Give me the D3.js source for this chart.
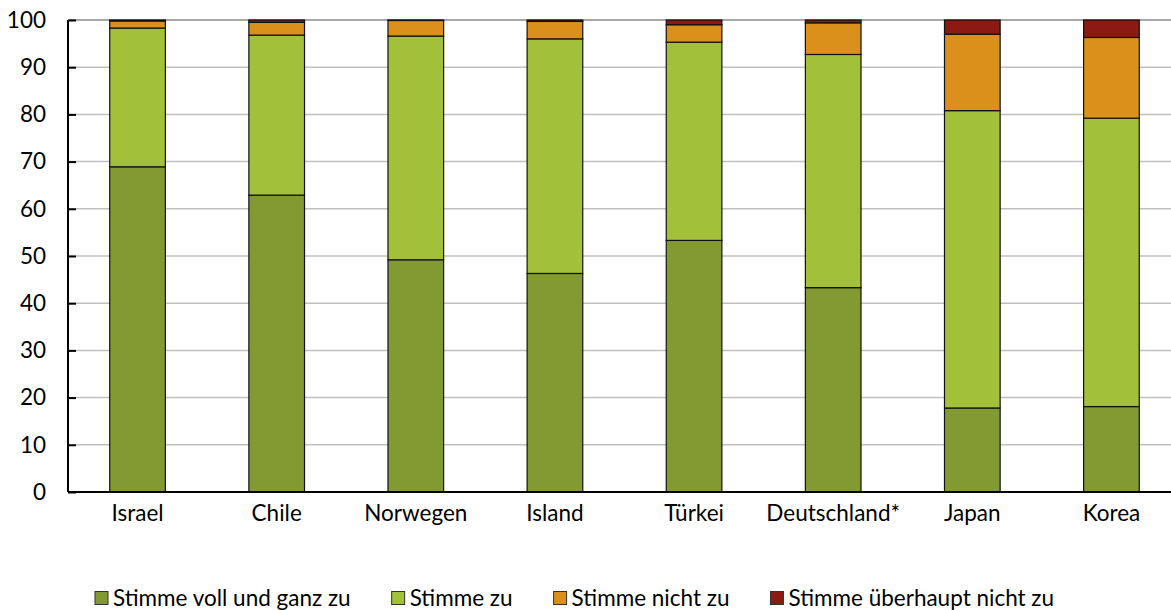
<!DOCTYPE html>
<html><head><meta charset="utf-8">
<script src="https://cdn.jsdelivr.net/npm/d3@7"></script>
<style>
html,body{margin:0;padding:0;background:#fff;}
svg{display:block;font-family:Lato, "Open Sans", sans-serif;}
</style></head>
<body>
<svg id="chart" width="1171" height="610"></svg>
<script>
const categories = ["Israel","Chile","Norwegen","Island","Türkei","Deutschland*","Japan","Korea"];
const seriesNames = ["Stimme voll und ganz zu","Stimme zu","Stimme nicht zu","Stimme überhaupt nicht zu"];
const vollUndGanz = [68.9, 62.9, 49.2, 46.3, 53.3, 43.3, 17.8, 18.1];
const stimmeZu    = [29.4, 33.9, 47.4, 49.7, 42.0, 49.4, 63.0, 61.1];
const nichtZu     = [1.5, 2.7, 3.3, 3.7, 3.7, 6.7, 16.2, 17.1];
const ueberhaupt  = [0.2, 0.5, 0.1, 0.3, 1.0, 0.6, 3.0, 3.7];
const yTicks = [0,10,20,30,40,50,60,70,80,90,100];
const colors = ["#839a32","#a2c03a","#dc901c","#8b1a12"];

const FS = 22.5;
const svg = d3.select("#chart");
const m = {left:68, top:20, bottom:492, right:1181};

const x = d3.scaleBand().domain(categories).range([m.left, m.right]).paddingInner(0.6).paddingOuter(0.3);
const y = d3.scaleLinear().domain([0,100]).range([m.bottom, m.top]);

const rows = categories.map((c,i)=>({cat:c, s0:vollUndGanz[i], s1:stimmeZu[i], s2:nichtZu[i], s3:ueberhaupt[i]}));
const stack = d3.stack().keys(["s0","s1","s2","s3"])(rows);

// gridlines
svg.append("g").selectAll("line").data(yTicks.filter(t=>t>0)).join("line")
  .attr("x1", m.left).attr("x2", 1171)
  .attr("y1", d=>y(d)).attr("y2", d=>y(d))
  .attr("stroke", d=> d===100 ? "#8a8a8a" : "#c0c0c0").attr("stroke-width", 1.5);

// bars
svg.append("g").selectAll("g").data(stack).join("g")
  .attr("fill", (d,i)=>colors[i])
  .selectAll("rect").data(d=>d).join("rect")
  .attr("x", d=>x(d.data.cat))
  .attr("width", x.bandwidth())
  .attr("y", d=>y(d[1]))
  .attr("height", d=>Math.max(0, y(d[0])-y(d[1])))
  .attr("stroke", "#111").attr("stroke-width", 1.2);

// y axis
const yAxis = d3.axisLeft(y).tickValues(yTicks).tickSize(-8).tickPadding(30).tickFormat(d3.format("d"));
const gy = svg.append("g").attr("transform", `translate(${m.left},0)`).call(yAxis);
gy.select(".domain").attr("stroke","#000").attr("stroke-width",2).attr("d", `M0,${m.bottom}V${m.top}`);
gy.selectAll(".tick line").attr("stroke","#000").attr("stroke-width",2);
gy.selectAll(".tick text").attr("font-size", FS).attr("fill","#000").attr("font-family","Lato, sans-serif").attr("dx", 8);

// x axis
const xAxis = d3.axisBottom(x).tickSize(0).tickPadding(13);
const gx = svg.append("g").attr("transform", `translate(0,${m.bottom})`).call(xAxis);
gx.select(".domain").attr("stroke","#000").attr("stroke-width",2).attr("d", `M${m.left},0H1171`);
gx.selectAll(".tick text").attr("font-size", FS).attr("fill","#000").attr("font-family","Lato, sans-serif");

// legend
const leg = svg.append("g").attr("transform","translate(95,598)");
let cx = 0;
seriesNames.forEach((name,i)=>{
  const g = leg.append("g").attr("transform", `translate(${cx},0)`);
  g.append("rect").attr("x",0).attr("y",-6.5).attr("width",13).attr("height",13)
    .attr("fill",colors[i]).attr("stroke","#333").attr("stroke-width",1);
  const t = g.append("text").attr("x",18).attr("y",0).attr("dy","0.35em")
    .attr("font-size",FS).attr("fill","#000").text(name);
  cx += 18 + t.node().getComputedTextLength() + 41;
});
</script>
</body></html>
